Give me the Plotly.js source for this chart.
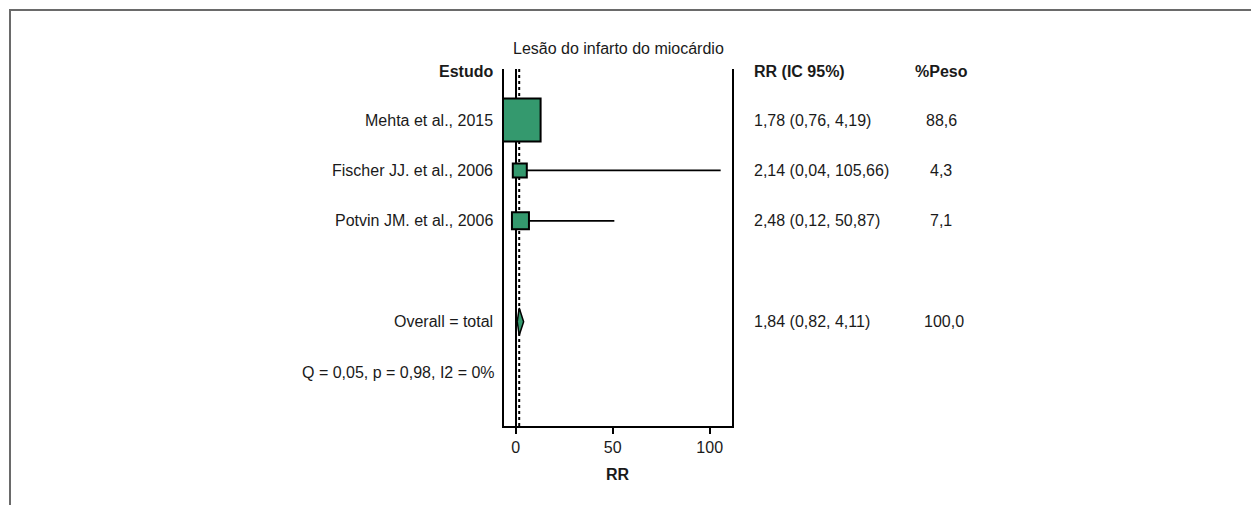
<!DOCTYPE html>
<html>
<head>
<meta charset="utf-8">
<script src="https://cdn.plot.ly/plotly-3.0.1.min.js"></script>
<style>
  html, body { margin: 0; padding: 0; background: #fff; overflow: hidden; }
  #wrap { position: relative; width: 1251px; height: 505px; }
  #chart { position: absolute; left: 0; top: 0; width: 1251px; height: 505px; }
  #frame { position: absolute; left: 9px; top: 9px; width: 1400px; height: 700px;
           border-top: 2px solid #6a6a6a; border-left: 2px solid #6a6a6a; pointer-events: none; }
</style>
</head>
<body>
<div id="wrap">
  <div id="chart"></div>
  <div id="frame"></div>
</div>
<script>
// ---- data ----
const chartTitle = 'Lesão do infarto do miocárdio';
const studies = ['Mehta et al., 2015', 'Fischer JJ. et al., 2006', 'Potvin JM. et al., 2006'];
const rr = [1.78, 2.14, 2.48];
const ciLow = [0.76, 0.04, 0.12];
const ciHigh = [4.19, 105.66, 50.87];
const weightPct = [88.6, 4.3, 7.1];
const overallLabel = 'Overall = total';
const overallRR = 1.84;
const overallLow = 0.82;
const overallHigh = 4.11;
const overallWeight = 100.0;
const heterogeneity = 'Q = 0,05, p = 0,98, I2 = 0%';
const xTickVals = [0, 50, 100];
const xTickText = ['0', '50', '100'];

// ---- layout / style constants ----
const studyRows = [1, 2, 3];
const overallRow = 5;
const hetRow = 6;
const headerRow = 0.04;
const boxSizes = [43, 14, 17];
const green = '#34996e';
const txt = '#1a1a1a';
const font = 'Arial, "Liberation Sans", sans-serif';
const diamondHalf = 0.27;

const fmt2 = v => v.toFixed(2).replace('.', ',');
const fmt1 = v => v.toFixed(1).replace('.', ',');

const traces = [];

// study boxes with CI
traces.push({
  type: 'scatter', mode: 'markers',
  x: rr, y: studyRows,
  marker: { symbol: 'square', size: boxSizes, opacity: 1, color: green, line: { color: '#000', width: 2 } },
  error_x: {
    type: 'data', symmetric: false,
    array: rr.map((v, i) => ciHigh[i] - v),
    arrayminus: rr.map((v, i) => v - ciLow[i]),
    color: '#000', thickness: 1.6, width: 0
  },
  cliponaxis: true, hoverinfo: 'skip', showlegend: false
});

// overall diamond
traces.push({
  type: 'scatter', mode: 'lines',
  x: [overallLow, overallRR, overallHigh, overallRR, overallLow],
  y: [overallRow, overallRow - diamondHalf, overallRow, overallRow + diamondHalf, overallRow],
  fill: 'toself', fillcolor: green,
  line: { color: '#000', width: 1.5 },
  hoverinfo: 'skip', showlegend: false
});

const ann = [];
const plotL = 504, plotR = 732, plotT = 69, plotB = 426;
const px2paperX = p => (p - plotL) / (plotR - plotL);
const px2paperY = p => (plotB - p) / (plotB - plotT);

function addText(text, xpx, y, anchor, bold, yIsPx) {
  ann.push({
    text: bold ? '<b>' + text + '</b>' : text,
    xref: 'paper', yref: yIsPx ? 'paper' : 'y',
    x: px2paperX(xpx), y: yIsPx ? px2paperY(y) : y,
    xanchor: anchor, yanchor: 'middle', showarrow: false,
    font: { family: font, size: 16, color: txt }
  });
}

// title
addText(chartTitle, 618, 48, 'center', false, true);
// headers
addText('Estudo', 495, headerRow, 'right', true);
addText('RR (IC 95%)', 752, headerRow, 'left', true);
addText('%Peso', 941, headerRow, 'center', true);
// rows
studies.forEach((s, i) => {
  addText(s, 495, studyRows[i], 'right', false);
  addText(fmt2(rr[i]) + ' (' + fmt2(ciLow[i]) + ', ' + fmt2(ciHigh[i]) + ')', 752, studyRows[i], 'left', false);
  addText(fmt1(weightPct[i]), 941, studyRows[i], 'center', false);
});
addText(overallLabel, 495, overallRow, 'right', false);
addText(fmt2(overallRR) + ' (' + fmt2(overallLow) + ', ' + fmt2(overallHigh) + ')', 752, overallRow, 'left', false);
addText(fmt1(overallWeight), 944, overallRow, 'center', false);
addText(heterogeneity, 497, hetRow, 'right', false);
// x axis title
addText('RR', 618, 474, 'center', true, true);

const layout = {
  width: 1251, height: 505,
  margin: { l: plotL, r: 1251 - plotR, t: plotT, b: 505 - plotB, pad: 0 },
  paper_bgcolor: '#fff', plot_bgcolor: '#fff',
  showlegend: false,
  xaxis: {
    range: [-6, 111.5], autorange: false,
    tickvals: xTickVals, ticktext: xTickText,
    ticks: 'outside', ticklen: 6, tickwidth: 2, tickcolor: '#000',
    showline: true, linecolor: '#000', linewidth: 2,
    showgrid: false,
    zeroline: true, zerolinecolor: '#000', zerolinewidth: 2,
    tickfont: { family: font, size: 16, color: txt },
    fixedrange: true
  },
  yaxis: {
    range: [7.07, -0.012], autorange: false,
    showline: true, mirror: true, linecolor: '#000', linewidth: 2,
    showgrid: false, zeroline: false, showticklabels: false, ticks: '',
    fixedrange: true
  },
  shapes: [{
    type: 'line', layer: 'below', xref: 'x', yref: 'paper',
    x0: overallRR, x1: overallRR, y0: 0, y1: 1,
    line: { color: '#000', width: 2, dash: '3px,3px' }
  }],
  annotations: ann
};

Plotly.newPlot('chart', traces, layout, { staticPlot: true, displayModeBar: false });
</script>
</body>
</html>
